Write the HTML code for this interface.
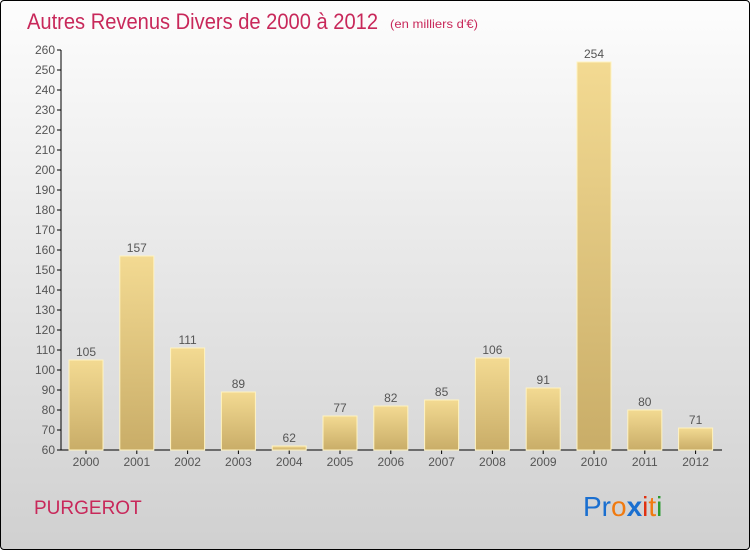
<!DOCTYPE html>
<html><head><meta charset="utf-8"><style>
body{margin:0;width:750px;height:550px;overflow:hidden;font-family:"Liberation Sans",sans-serif}
#c{position:absolute;left:0;top:0;width:748px;height:548px;border:1px solid #000;border-radius:4px;background:linear-gradient(#fdfdfd,#d0d0d0)}
</style></head><body>
<div id="c"></div>
<svg id="s" width="750" height="550" style="position:absolute;left:0;top:0">
<defs><linearGradient id="g" x1="0" y1="0" x2="0" y2="1"><stop offset="0" stop-color="#f3da92"/><stop offset="1" stop-color="#c9ad68"/></linearGradient></defs>
<text x="27" y="29" font-size="22" fill="#c8285a" textLength="351" lengthAdjust="spacingAndGlyphs">Autres Revenus Divers de 2000 à 2012</text>
<text x="390" y="28" font-size="12" fill="#c8285a" textLength="88" lengthAdjust="spacingAndGlyphs">(en milliers d'€)</text>
<text x="34" y="514" font-size="19" fill="#c8285a">PURGEROT</text>
<text x="583" y="516" font-size="28"><tspan fill="#1a6fd0">Pr</tspan><tspan fill="#f07a10">o</tspan><tspan fill="#1a6fd0" font-weight="bold">x</tspan><tspan fill="#e03010">i</tspan><tspan fill="#f07a10">t</tspan><tspan fill="#2a9a30">i</tspan></text>
<g id="ax"></g><g id="bars"></g>
</svg>
<script>
const categories=["2000","2001","2002","2003","2004","2005","2006","2007","2008","2009","2010","2011","2012"];
const values=[105,157,111,89,62,77,82,85,106,91,254,80,71];
const ticks=[60,70,80,90,100,110,120,130,140,150,160,170,180,190,200,210,220,230,240,250,260];
const NS="http://www.w3.org/2000/svg";
const y=v=>450-(v-60)*2, x=i=>86+i*50.8;
function mk(t,a,p,txt){const e=document.createElementNS(NS,t);for(const k in a)e.setAttribute(k,a[k]);if(txt!==undefined)e.textContent=txt;p.appendChild(e);return e;}
const ax=document.getElementById('ax'),bg=document.getElementById('bars');
let l=mk('line',{x1:61,y1:50,x2:61,y2:450,stroke:'#000'},ax);


l=mk('line',{x1:61,y1:450,x2:722,y2:450,stroke:'#000'},ax);


ticks.forEach(t=>{
 mk('line',{x1:57,y1:y(t),x2:61,y2:y(t),stroke:'#000'},ax);
 const e=mk('text',{x:55,y:y(t)+4,'font-size':12,fill:'#555','text-anchor':'end'},ax,t);
 
 
});
categories.forEach((c,i)=>{
 const cx=x(i),v=values[i];
 const r=mk('rect',{x:cx-17,y:y(v),width:34,height:450-y(v),fill:'url(#g)',stroke:'#fff3c0','stroke-width':1},bg);
 
 
 const lb=mk('text',{x:cx,y:y(v)-4,'font-size':12,fill:'#555','text-anchor':'middle'},bg,v);
 
 
 mk('line',{x1:cx,y1:450,x2:cx,y2:454,stroke:'#000'},ax);
 const xl=mk('text',{x:cx,y:466,'font-size':12,fill:'#555','text-anchor':'middle'},ax,c);
 
 
});
</script>
</body></html>
